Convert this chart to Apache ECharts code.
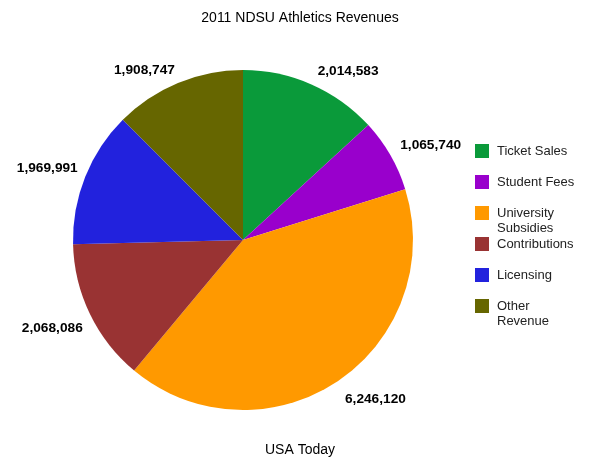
<!DOCTYPE html>
<html>
<head>
<meta charset="utf-8">
<title>2011 NDSU Athletics Revenues</title>
<script src="https://cdn.jsdelivr.net/npm/echarts@6/dist/echarts.min.js"></script>
<style>
  html, body { margin: 0; padding: 0; background: #fff; }
  #chart { width: 600px; height: 463px; }
</style>
</head>
<body>
<div id="chart"></div>
<script>
// revenue sources (USA Today)
var categories = ['Ticket Sales', 'Student Fees', 'University Subsidies', 'Contributions', 'Licensing', 'Other Revenue']
var revenues = [2014583, 1065740, 6246120, 2068086, 1969991, 1908747]
var legendLabels = ['Ticket Sales', 'Student Fees', 'University\nSubsidies', 'Contributions', 'Licensing', 'Other\nRevenue']
var colors = ['#0a9a3a', '#9900cc', '#ff9900', '#993333', '#2222dd', '#666600']

var FONT = '"Liberation Sans", Arial, sans-serif'

var chart = echarts.init(document.getElementById('chart'), null, { renderer: 'canvas' })

// one legend per entry so the two-line names hang below their swatch
var legends = categories.map(function (name, i) {
  var twoLines = legendLabels[i].indexOf('\n') >= 0
  var center = 151 + i * 31
  return {
    orient: 'vertical',
    left: 475,
    top: center - (twoLines ? 22.5 : 7.5),
    padding: 0,
    data: [name],
    icon: 'rect',
    itemWidth: 14,
    itemHeight: 14,
    itemGap: 8,
    selectedMode: false,
    // an empty first line keeps the swatch level with the first text line
    formatter: function () { return (twoLines ? '\n' : '') + legendLabels[i] },
    textStyle: {
      fontFamily: FONT,
      fontSize: 13,
      lineHeight: 15,
      color: '#222',
      padding: [0, 0, 0, 3]
    }
  }
})

chart.setOption({
  animation: false,
  backgroundColor: '#fff',
  title: [
    {
      text: '2011 NDSU Athletics Revenues',
      left: 'center',
      top: 11,
      padding: 0,
      textStyle: { fontFamily: FONT, fontSize: 14, fontWeight: 'normal', color: '#000' }
    },
    {
      text: 'USA Today',
      left: 'center',
      top: 443,
      padding: 0,
      textStyle: { fontFamily: FONT, fontSize: 14, fontWeight: 'normal', color: '#000' }
    }
  ],
  legend: legends,
  series: [
    {
      type: 'pie',
      center: [243, 240],
      radius: 170,
      startAngle: 90,
      clockwise: true,
      avoidLabelOverlap: false,
      emphasis: { disabled: true },
      data: categories.map(function (name, i) {
        return { name: name, value: revenues[i], itemStyle: { color: colors[i] } }
      }),
      label: {
        show: true,
        position: 'outside',
        formatter: function (p) { return echarts.format.addCommas(p.value) },
        fontFamily: FONT,
        fontSize: 13.7,
        fontWeight: 'bold',
        color: '#000',
        distanceToLabelLine: 0
      },
      // invisible guide line, only used to find the anchor point
      labelLine: { show: true, length: 8, length2: 0, lineStyle: { opacity: 0 } },
      // put the label corner nearest the pie on the anchor point
      labelLayout: function (p) {
        var pts = p.labelLinePoints
        if (!pts || pts.length < 2) return {}
        var a = pts[0], b = pts[1]
        var right = b[0] >= a[0]
        var below = b[1] >= a[1]
        return {
          x: b[0],
          y: b[1],
          dx: right ? 3 : 0,
          dy: below ? 4 : 1.5,
          align: right ? 'left' : 'right',
          verticalAlign: below ? 'top' : 'bottom'
        }
      }
    }
  ]
})
</script>
</body>
</html>
